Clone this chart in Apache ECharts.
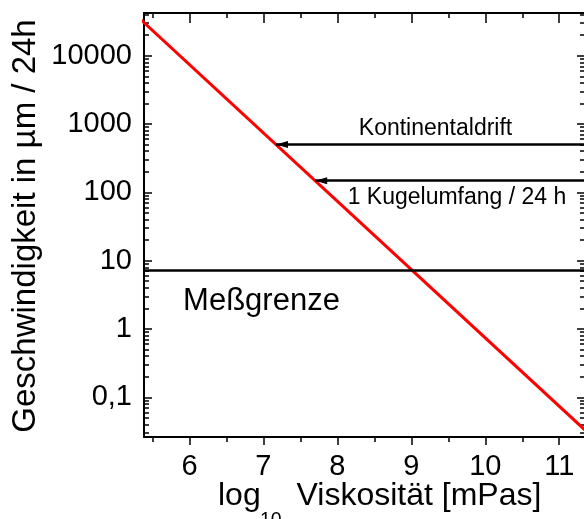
<!DOCTYPE html>
<html>
<head>
<meta charset="utf-8">
<script src="https://cdn.jsdelivr.net/npm/echarts@6.0.0/dist/echarts.min.js"></script>
<style>
  html, body { margin: 0; padding: 0; background: #fff; }
  #chart { width: 584px; height: 519px; }
</style>
</head>
<body>
<div id="chart"></div>
<script>
// Stokes-type sinking speed versus viscosity (log10 mPas)
const lineLogVisc = [5.3, 11.4];
const lineSpeed = [37150, 0.0295];

// Reference speeds drawn as horizontal lines
const refNames = ['Kontinentaldrift', '1 Kugelumfang / 24 h', 'Meßgrenze'];
const refSpeed = [500, 148, 7.2];
const refArrowTip = [7.17, 7.70, null];   // where the arrow meets the curve (null = plain line)

// Text annotations (anchor point in data coordinates)
const noteText = ['Kontinentaldrift', '1 Kugelumfang / 24 h', 'Meßgrenze'];
const noteLogVisc = [9.327, 9.617, 6.974];
const noteSpeed = [855, 82.6, 2.57];
const noteFontSize = [23, 23, 31];

// Axis ticks
const xMajor = [6, 7, 8, 9, 10, 11];
const xMinor = [5.5, 6.5, 7.5, 8.5, 9.5, 10.5];
const yMajor = [0.1, 1, 10, 100, 1000, 10000];
const yMajorLabels = ['0,1', '1', '10', '100', '1000', '10000'];

const xRange = [5.385, 11.335];
const yRange = [0.02624, 42170];

// Log minor ticks: 2..9 within each decade
const yMinor = [];
for (let e = -2; e <= 4; e++) {
  for (let k = 2; k <= 9; k++) {
    const v = k * Math.pow(10, e);
    if (v > yRange[0] && v < yRange[1]) yMinor.push(+v.toPrecision(3));
  }
}

const FONT = "'Liberation Sans', Arial, sans-serif";
const black = '#000';

function xAxisDef(pos, ticks, len, inside, showLine, showLabels) {
  return {
    type: 'value', position: pos, min: xRange[0], max: xRange[1],
    splitLine: { show: false },
    axisLine: { show: showLine, lineStyle: { color: black, width: 2 } },
    axisTick: { show: true, inside: inside, length: len, customValues: ticks,
                lineStyle: { color: black, width: 1.5 } },
    axisLabel: showLabels ? {
      show: true, customValues: ticks, margin: 15, color: black,
      fontFamily: FONT, fontSize: 29
    } : { show: false }
  };
}

function yAxisDef(pos, ticks, len, showLine, showLabels) {
  return {
    type: 'log', logBase: 10, position: pos, min: yRange[0], max: yRange[1],
    splitLine: { show: false },
    axisLine: { show: showLine, lineStyle: { color: black, width: 2 } },
    axisTick: { show: true, inside: true, length: len, customValues: ticks,
                lineStyle: { color: black, width: 1.5 } },
    axisLabel: showLabels ? {
      show: true, customValues: ticks, margin: 12, color: black,
      fontFamily: FONT, fontSize: 29,
      formatter: function (v) {
        const i = yMajor.findIndex(function (m) { return Math.abs(m - v) / m < 1e-6; });
        return i >= 0 ? yMajorLabels[i] : '';
      }
    } : { show: false }
  };
}

// Reference lines: arrows pointing at the curve, plus the full-width detection limit
const refMarkData = refNames.map(function (name, i) {
  if (refArrowTip[i] === null) {
    return [{ coord: [xRange[0], refSpeed[i]], symbol: 'none' },
            { coord: [xRange[1], refSpeed[i]], symbol: 'none' }];
  }
  return [{ coord: [refArrowTip[i], refSpeed[i]], symbol: 'path://M5,0 L10,17 L0,17 Z',
            symbolSize: [7, 12], symbolOffset: [0, 6], symbolKeepAspect: false },
          { coord: [xRange[1], refSpeed[i]], symbol: 'none' }];
});

const chart = echarts.init(document.getElementById('chart'), null, { renderer: 'canvas' });
chart.setOption({
  animation: false,
  backgroundColor: '#fff',
  textStyle: { fontFamily: FONT },
  grid: { left: 144, right: 0, top: 13, bottom: 82, containLabel: false, outerBoundsMode: 'none' },
  xAxis: [
    xAxisDef('bottom', xMajor, 8, false, true, true),
    xAxisDef('bottom', xMinor, 5, false, false, false),
    xAxisDef('top', xMajor, 10, true, true, false),
    xAxisDef('top', xMinor, 5, true, false, false)
  ],
  yAxis: [
    yAxisDef('left', yMajor, 8, true, true),
    yAxisDef('left', yMinor, 5, false, false),
    yAxisDef('right', yMajor, 7, false, false),
    yAxisDef('right', yMinor, 4, false, false)
  ],
  series: [
    {
      name: 'Referenz', type: 'line', data: [], xAxisIndex: 0, yAxisIndex: 0,
      markLine: {
        silent: true, animation: false,
        symbol: ['none', 'none'],
        label: { show: false },
        lineStyle: { color: black, width: 2.5, type: 'solid' },
        itemStyle: { color: black },
        emphasis: { disabled: true },
        data: refMarkData
      },
      z: 3
    },
    {
      name: 'Geschwindigkeit', type: 'line', xAxisIndex: 0, yAxisIndex: 0,
      data: lineLogVisc.map(function (x, i) { return [x, lineSpeed[i]]; }),
      showSymbol: false, clip: true,
      lineStyle: { color: '#ff0000', width: 3 },
      z: 2
    },
    {
      name: 'Notizen', type: 'scatter', xAxisIndex: 0, yAxisIndex: 0,
      symbolSize: 0, silent: true,
      itemStyle: { opacity: 1, color: black },
      data: noteText.map(function (t, i) {
        return {
          name: t, value: [noteLogVisc[i], noteSpeed[i]],
          label: { fontSize: noteFontSize[i], color: black, opacity: 1 }
        };
      }),
      label: {
        show: true, position: 'inside', formatter: '{b}', color: black,
        fontFamily: FONT, opacity: 1
      },
      z: 4
    }
  ],
  graphic: [
    {
      type: 'text', x: 26, y: 226, rotation: Math.PI / 2,
      style: {
        text: 'Geschwindigkeit in µm / 24h', fill: black,
        font: "33px 'Liberation Sans', Arial, sans-serif",
        align: 'center', verticalAlign: 'middle'
      }
    },
    {
      type: 'text', x: 218, y: 496,
      style: { text: 'log', fill: black, font: "32px 'Liberation Sans', Arial, sans-serif",
               align: 'left', verticalAlign: 'middle' }
    },
    {
      type: 'text', x: 260, y: 520.5,
      style: { text: '10', fill: black, font: "19.5px 'Liberation Sans', Arial, sans-serif",
               align: 'left', verticalAlign: 'middle' }
    },
    {
      type: 'text', x: 296.5, y: 496,
      style: { text: 'Viskosität [mPas]', fill: black, font: "32px 'Liberation Sans', Arial, sans-serif",
               align: 'left', verticalAlign: 'middle' }
    }
  ]
});
</script>
</body>
</html>
